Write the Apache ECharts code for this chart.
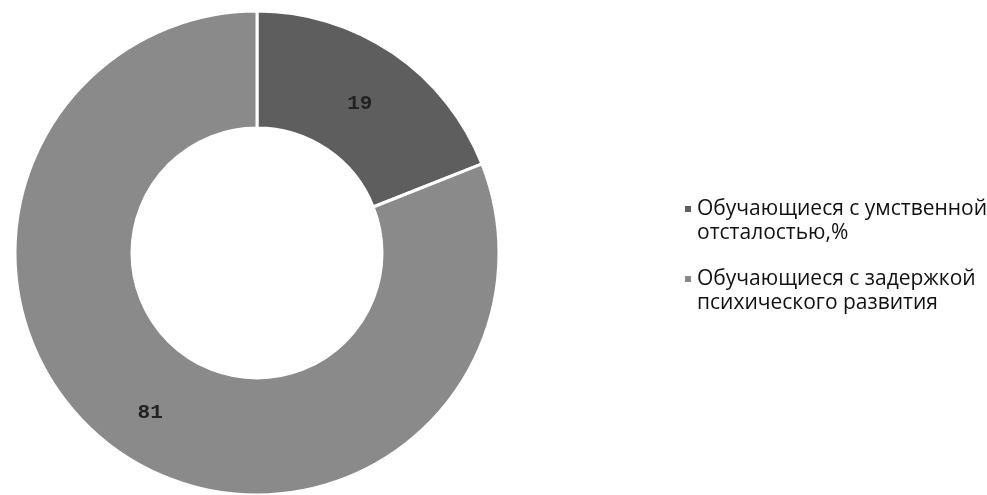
<!DOCTYPE html>
<html>
<head>
<meta charset="utf-8">
<script src="https://cdn.jsdelivr.net/npm/echarts@6/dist/echarts.min.js"></script>
<style>
html,body{margin:0;padding:0;background:#fff;}
#chart{width:987px;height:495px;}
</style>
</head>
<body>
<div id="chart"></div>
<script>
const categories = [
  'Обучающиеся с умственной\nотсталостью,%',
  'Обучающиеся с задержкой\nпсихического развития'
];
const values = [19, 81];
const colors = ['#5e5e5e', '#8a8a8a'];

const chart = echarts.init(document.getElementById('chart'));
chart.setOption({
  backgroundColor: '#ffffff',
  animation: false,
  legend: {
    orient: 'vertical',
    left: 678,
    top: 168,
    itemWidth: 8,
    itemHeight: 8,
    itemGap: -2,
    icon: 'rect',
    data: categories,
    formatter: function (name) { return '\n' + name; },
    textStyle: {
      fontFamily: 'Open Sans',
      fontSize: 21,
      color: '#111111',
      lineHeight: 24
    }
  },
  series: [{
    type: 'pie',
    center: [257, 253],
    radius: [125, 242],
    startAngle: 90,
    clockwise: true,
    itemStyle: { borderColor: '#ffffff', borderWidth: 3 },
    label: {
      show: true,
      position: 'inside',
      formatter: '{c}',
      fontFamily: 'Liberation Mono',
      fontWeight: 'bold',
      fontSize: 21,
      color: '#222222',
      offset: [-2, 5]
    },
    labelLine: { show: false },
    emphasis: { disabled: true },
    data: categories.map((name, i) => ({
      name: name,
      value: values[i],
      itemStyle: { color: colors[i] }
    }))
  }]
});
</script>
</body>
</html>
